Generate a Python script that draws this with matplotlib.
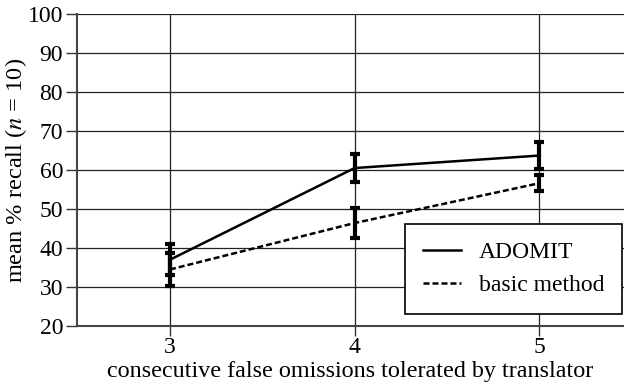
import matplotlib
matplotlib.use("Agg")
import matplotlib.pyplot as plt
from matplotlib.lines import Line2D

plt.rcParams['font.family'] = ['Liberation Serif', 'DejaVu Serif']
plt.rcParams['mathtext.fontset'] = 'stix'

x = [3, 4, 5]
adomit = [37.0, 60.5, 63.7]
adomit_err = [4.0, 3.6, 3.4]
basic = [34.5, 46.4, 56.6]
basic_err = [4.3, 3.9, 2.0]
yticks = [20, 30, 40, 50, 60, 70, 80, 90, 100]

dash = (0, (2.4, 1.2))

fig = plt.figure(figsize=(6.24, 3.91), dpi=100)
ax = fig.add_axes([77 / 624, 1 - 326 / 391, 547 / 624, 312 / 391])

ax.errorbar(x, adomit, yerr=adomit_err, color='black', lw=1.8, ls='-',
            elinewidth=3, capsize=3.5, capthick=3, zorder=3)
ax.errorbar(x, basic, yerr=basic_err, color='black', lw=1.8, ls=dash,
            elinewidth=3, capsize=3.5, capthick=3, zorder=3)

ax.set_xlim(2.496, 5.46)
ax.set_ylim(20, 100)
ax.set_xticks(x)
ax.set_yticks(yticks)
ax.tick_params(labelsize=17, length=8, width=1, color='#333333', pad=2)
ax.tick_params(axis='x', length=7, pad=1)
ax.grid(True, color='#222222', lw=0.9)
ax.set_axisbelow(True)
for s in ['top', 'right']:
    ax.spines[s].set_visible(False)
for s in ['left', 'bottom']:
    ax.spines[s].set_color('#444444')
    ax.spines[s].set_linewidth(1.5)

ax.set_xlabel('consecutive false omissions tolerated by translator', fontsize=17.4, labelpad=2)
ax.set_ylabel('mean % recall ($n$ = 10)', fontsize=17.6, labelpad=-1)

handles = [Line2D([], [], color='black', lw=1.8, ls='-'),
           Line2D([], [], color='black', lw=1.8, ls=dash)]
leg = ax.legend(handles, ['ADOMIT', 'basic method'], loc='lower right',
                bbox_to_anchor=(0.996, 0.038), fontsize=17,
                fancybox=False, edgecolor='black', framealpha=1, handlelength=1.6,
                borderpad=0.75, labelspacing=0.5, handletextpad=0.75, borderaxespad=0)
leg.get_frame().set_linewidth(1.2)

fig.savefig('out.png', dpi=100)
